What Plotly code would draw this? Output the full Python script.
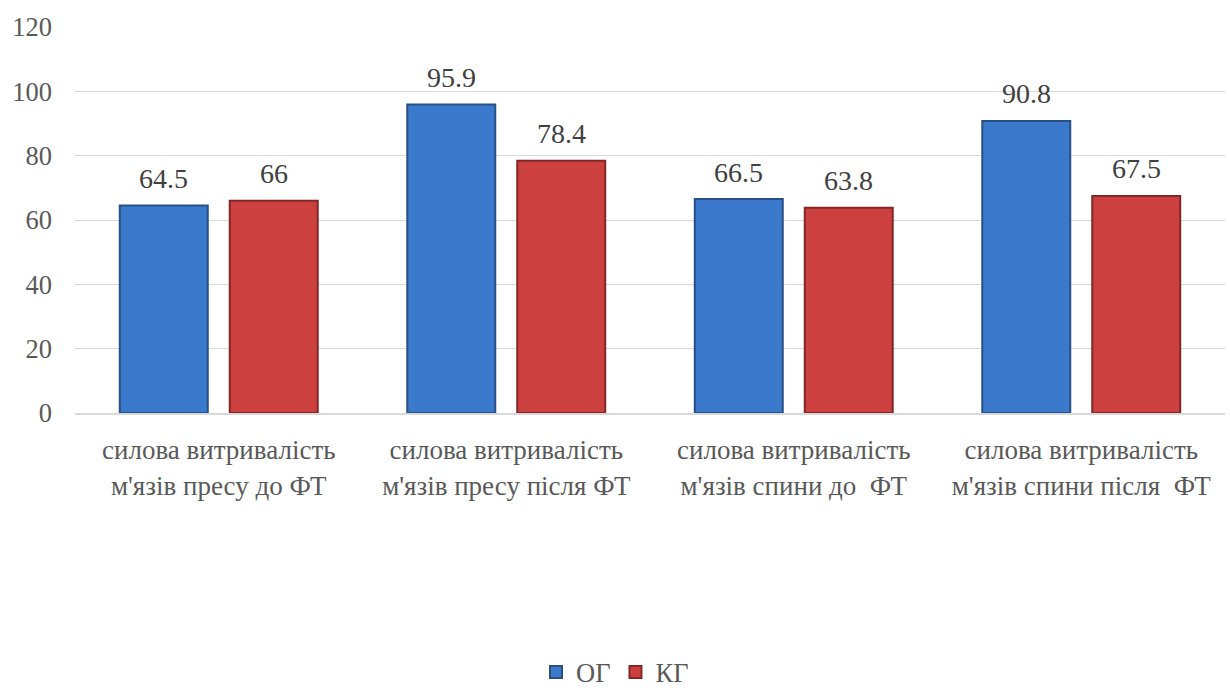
import plotly.graph_objects as go

categories = [
    "силова витривалість<br>м'язів пресу до ФТ",
    "силова витривалість<br>м'язів пресу після ФТ",
    "силова витривалість<br>м'язів спини до  ФТ",
    "силова витривалість<br>м'язів спини після  ФТ",
]
og_values = [64.5, 95.9, 66.5, 90.8]
kg_values = [66, 78.4, 63.8, 67.5]
series_names = ["ОГ", "КГ"]
y_ticks = [0, 20, 40, 60, 80, 100, 120]

FONT = "'Times New Roman', 'Liberation Serif', 'DejaVu Serif', serif"
TXT = "#595959"
W, H = 1230, 688
ML, MR, MT, MB = 75, 5, 27, 275
BARGAP = 0.235

fig = go.Figure()
fig.add_trace(go.Bar(
    x=categories, y=og_values, name=series_names[0],
    marker=dict(color="#3B79CD", line=dict(color="#284F86", width=2)),
))
fig.add_trace(go.Bar(
    x=categories, y=kg_values, name=series_names[1],
    marker=dict(color="#CC4040", line=dict(color="#842626", width=2)),
))

# data labels centred above each bar of the group
cat_px = (W - ML - MR) / len(categories)
slot_px = cat_px * (1 - BARGAP) / 2
for vals, sign in ((og_values, -1), (kg_values, 1)):
    for c, v in zip(categories, vals):
        fig.add_annotation(x=c, y=v, xref="x", yref="y", text=f"{v:g}",
                           showarrow=False, xshift=sign * slot_px / 2,
                           yshift=27, yanchor="middle",
                           font=dict(family=FONT, size=28, color="#404040"))

fig.update_layout(
    width=W, height=H,
    margin=dict(l=ML, r=MR, t=MT, b=MB, autoexpand=False),
    paper_bgcolor="white", plot_bgcolor="white",
    barmode="group", bargap=BARGAP, bargroupgap=0.2,
    font=dict(family=FONT, size=26.5, color=TXT),
    legend=dict(orientation="h", xref="container", x=0.5, xanchor="center",
                yref="container", y=0.023, yanchor="middle",
                font=dict(family=FONT, size=26.5, color=TXT), itemwidth=30,
                traceorder="normal"),
    showlegend=True,
)
fig.update_yaxes(range=[0, 120], tickvals=y_ticks, showgrid=True, gridcolor="#D9D9D9",
                 gridwidth=1, zeroline=False, showline=False, ticks="",
                 tickfont=dict(family=FONT, size=26.5, color=TXT), ticklabelstandoff=22)
fig.update_xaxes(showline=True, linecolor="#D9D9D9", linewidth=2, ticks="",
                 tickfont=dict(family=FONT, size=27, color=TXT), ticklabelstandoff=12)

fig.write_html("out.html")
